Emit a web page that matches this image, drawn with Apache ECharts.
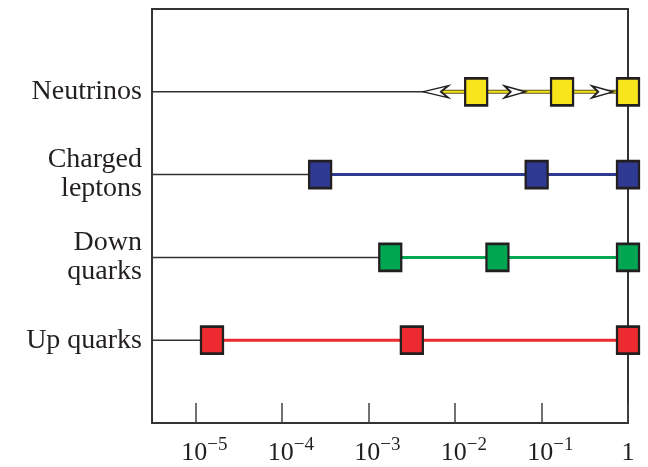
<!DOCTYPE html>
<html>
<head>
<meta charset="utf-8">
<script src="https://cdn.jsdelivr.net/npm/echarts@6/dist/echarts.min.js"></script>
<style>
html,body{margin:0;padding:0;background:#fff;}
#chart{width:648px;height:467px;}
</style>
</head>
<body>
<div id="chart"></div>
<script>
// ---- data ----
const rowNames = ['Up quarks', 'Down\nquarks', 'Charged\nleptons', 'Neutrinos'];
const tickValues = [1e-5, 1e-4, 1e-3, 1e-2, 1e-1, 1];
const upQuarks = [1.56e-5, 3.18e-3, 1];
const downQuarks = [1.79e-3, 0.031, 1];
const chargedLeptons = [2.77e-4, 0.088, 1];
const neutrinos = [0.0176, 0.173, 1];
const neutrinoArrowsLeft = [0.006];
const neutrinoArrowsRight = [0.0495, 0.508];
const rowColors = ['#ec2a2f', '#00a651', '#2e3992', '#f9e51c'];

const xMin = Math.pow(10, -5.5), xMax = 1;
const font = 'Liberation Serif, Times New Roman, serif';
const ink = '#231f20';

const rows = [upQuarks, downQuarks, chargedLeptons, neutrinos];
const series = [];

rows.forEach(function (vals, i) {
  const y = i + 1;
  const isNu = i === 3;
  const start = isNu ? neutrinoArrowsLeft[0] : vals[0];
  // thin black lead-in line
  series.push({
    type: 'line', silent: true, symbol: 'none', z: 2,
    data: [[xMin, y], [start, y]],
    lineStyle: {color: '#333', width: 1.5}
  });
  if (isNu) {
    // dark outline beneath yellow line
    series.push({
      type: 'line', silent: true, symbol: 'none', z: 3,
      data: [[start, y]].concat(vals.map(function (v) { return [v, y]; })),
      lineStyle: {color: '#5b5422', width: 4}
    });
  }
  series.push({
    type: 'line', silent: true, z: 4,
    data: (isNu ? [[start, y]] : []).concat(vals.map(function (v) { return [v, y]; })),
    lineStyle: {color: rowColors[i], width: isNu ? 2 : 3},
    symbol: 'none'
  });
  if (isNu) {
    series.push({
      type: 'scatter', silent: true, z: 5, clip: false,
      data: neutrinoArrowsLeft.map(function (v) { return [v, y]; }),
      symbol: 'path://M0,0 L24,6 L0,12 L7,6 Z',
      symbolSize: [25, 12], symbolRotate: 180,
      itemStyle: {color: '#fff', borderColor: ink, borderWidth: 1.8, opacity: 1}
    });
    series.push({
      type: 'scatter', silent: true, z: 5, clip: false,
      data: neutrinoArrowsRight.map(function (v) { return [v, y]; }),
      symbol: 'path://M0,0 L24,6 L0,12 L7,6 Z',
      symbolSize: [21, 12],
      itemStyle: {color: '#fff', borderColor: ink, borderWidth: 1.8, opacity: 1}
    });
  }
  series.push({
    type: 'scatter', silent: true, z: 6, clip: false,
    data: vals.map(function (v) { return [v, y]; }),
    symbol: 'rect', symbolSize: [22, 27],
    itemStyle: {color: rowColors[i], borderColor: ink, borderWidth: 2.5, opacity: 1}
  });
});

const chart = echarts.init(document.getElementById('chart'), null, {renderer: 'canvas'});
chart.setOption({
  animation: false,
  backgroundColor: '#fff',
  grid: {left: 152, right: 20, top: 9, bottom: 44, show: true, borderColor: '#333', borderWidth: 2, containLabel: false},
  xAxis: {
    type: 'log', logBase: 10, min: xMin, max: xMax,
    axisLine: {show: false},
    splitLine: {show: false},
    axisTick: {show: true, inside: true, length: 20, customValues: tickValues, lineStyle: {color: '#444', width: 1.5}},
    axisLabel: {
      customValues: tickValues, margin: 13, color: ink, fontFamily: font,
      formatter: function (v) {
        const e = Math.round(Math.log10(v));
        if (e === 0) return '{b|1}';
        return '{p| }{b|10}{s|\u2212' + Math.abs(e) + '}';
      },
      rich: {
        p: {width: 18, fontSize: 18, lineHeight: 30},
        b: {fontSize: 26, fontFamily: font, color: ink, lineHeight: 30, verticalAlign: 'bottom'},
        s: {fontSize: 19, fontFamily: font, color: ink, lineHeight: 16, verticalAlign: 'top'}
      }
    }
  },
  yAxis: {
    type: 'value', min: 0, max: 5,
    axisLine: {show: false}, axisTick: {show: false}, splitLine: {show: false},
    axisLabel: {
      customValues: [1, 2, 3, 4], margin: 10, color: ink, fontFamily: font,
      fontSize: 28, lineHeight: 29, align: 'right',
      formatter: function (v) { return rowNames[Math.round(v) - 1]; }
    }
  },
  series: series
});
</script>
</body>
</html>
